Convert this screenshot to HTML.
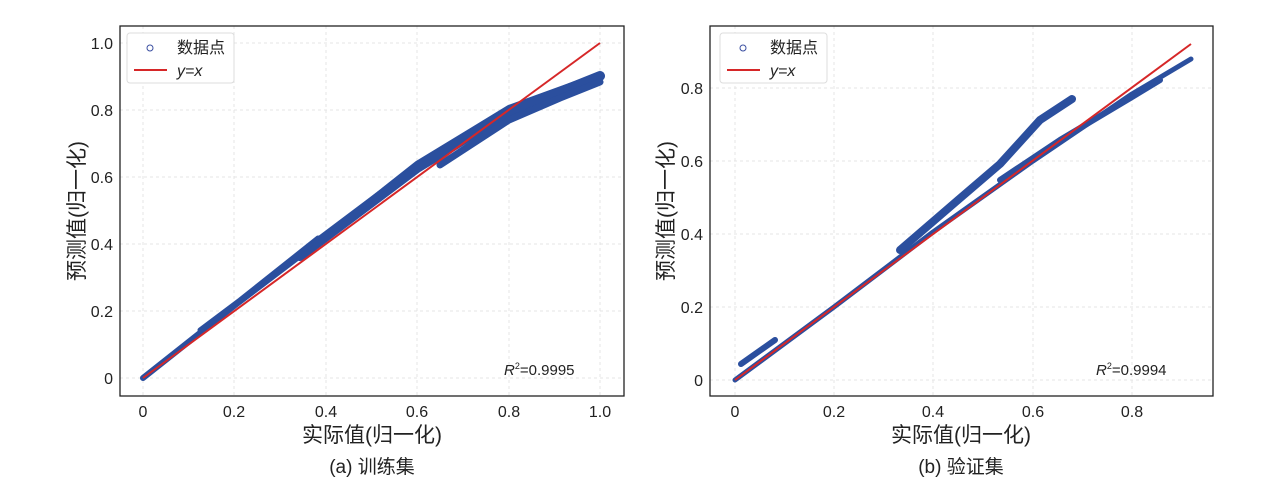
<!DOCTYPE html><html><head><meta charset="utf-8"><style>body{margin:0;background:#fff}svg{display:block}text{font-family:"Liberation Sans","Noto Sans CJK SC",sans-serif;fill:#222}</style></head><body>
<svg width="1268" height="486" viewBox="0 0 1268 486">
<g stroke="#e4e4e4" stroke-dasharray="3,3" stroke-width="1">
<line x1="234" y1="26" x2="234" y2="396"/><line x1="326" y1="26" x2="326" y2="396"/><line x1="417" y1="26" x2="417" y2="396"/><line x1="509" y1="26" x2="509" y2="396"/><line x1="143" y1="26" x2="143" y2="396"/><line x1="600" y1="26" x2="600" y2="396"/>
<line x1="120" y1="378" x2="624" y2="378"/><line x1="120" y1="311" x2="624" y2="311"/><line x1="120" y1="244" x2="624" y2="244"/><line x1="120" y1="177" x2="624" y2="177"/><line x1="120" y1="110" x2="624" y2="110"/><line x1="120" y1="43" x2="624" y2="43"/>
<line x1="735" y1="26" x2="735" y2="396"/><line x1="834" y1="26" x2="834" y2="396"/><line x1="933" y1="26" x2="933" y2="396"/><line x1="1033" y1="26" x2="1033" y2="396"/><line x1="1132" y1="26" x2="1132" y2="396"/>
<line x1="710" y1="380" x2="1213" y2="380"/><line x1="710" y1="307" x2="1213" y2="307"/><line x1="710" y1="234" x2="1213" y2="234"/><line x1="710" y1="161" x2="1213" y2="161"/><line x1="710" y1="88" x2="1213" y2="88"/>
</g>
<g fill="none" stroke="#2b4f9e" stroke-linecap="round" stroke-linejoin="round">
<polyline stroke-width="6" points="143,378 234,306 326,236 417,164 509,108 600,75"/>
<polyline stroke-width="10" points="300,256 417,168 509,112 560,92 600,76"/>
<polyline stroke-width="7" points="440,165 509,120 560,98 600,82"/>
<polyline stroke-width="5" points="200,330 240,300 318,238"/>
<polyline stroke-width="5" points="735,380 834,307 933,232 1033,161 1132,94 1191,59"/>
<polyline stroke-width="8" points="900,250 958,200 1000,164 1040,120 1072,99"/>
<polyline stroke-width="6" points="741,364 775,340"/>
<polyline stroke-width="6" points="1000,180 1060,140 1132,97 1160,80"/>
</g>
<line x1="143" y1="378" x2="600" y2="43" stroke="#d62728" stroke-width="2"/>
<line x1="735" y1="380" x2="1191" y2="44" stroke="#d62728" stroke-width="2"/>
<g fill="none" stroke="#222" stroke-width="1.3">
<rect x="120" y="26" width="504" height="370"/><rect x="710" y="26" width="503" height="370"/>
</g>
<g font-size="16" text-anchor="end">
<text x="113" y="384">0</text><text x="113" y="317">0.2</text><text x="113" y="250">0.4</text><text x="113" y="183">0.6</text><text x="113" y="116">0.8</text><text x="113" y="49">1.0</text>
<text x="703" y="386">0</text><text x="703" y="313">0.2</text><text x="703" y="240">0.4</text><text x="703" y="167">0.6</text><text x="703" y="94">0.8</text>
</g>
<g font-size="16" text-anchor="middle">
<text x="143" y="417">0</text><text x="234" y="417">0.2</text><text x="326" y="417">0.4</text><text x="417" y="417">0.6</text><text x="509" y="417">0.8</text><text x="600" y="417">1.0</text>
<text x="735" y="417">0</text><text x="834" y="417">0.2</text><text x="933" y="417">0.4</text><text x="1033" y="417">0.6</text><text x="1132" y="417">0.8</text>
</g>
<g font-size="21" text-anchor="middle">
<text x="372" y="442">实际值(归一化)</text><text x="961" y="442">实际值(归一化)</text>
<text transform="translate(84,211) rotate(-90)">预测值(归一化)</text>
<text transform="translate(673,211) rotate(-90)">预测值(归一化)</text>
</g>
<g font-size="19" text-anchor="middle"><text x="372" y="473">(a) 训练集</text><text x="961" y="473">(b) 验证集</text></g>
<g font-size="15"><text x="504" y="375"><tspan font-style="italic">R</tspan><tspan font-size="9" dy="-6">2</tspan><tspan dy="6">=0.9995</tspan></text>
<text x="1096" y="375"><tspan font-style="italic">R</tspan><tspan font-size="9" dy="-6">2</tspan><tspan dy="6">=0.9994</tspan></text></g>
<g>
<rect x="127" y="33" width="107" height="50" rx="3" fill="#fff" stroke="#ddd"/>
<circle cx="150" cy="48" r="3" fill="none" stroke="#3a4ea0"/>
<line x1="134" y1="70" x2="167" y2="70" stroke="#d62728" stroke-width="2"/>
<text x="177" y="53" font-size="16">数据点</text><text x="177" y="76" font-size="16" font-style="italic">y=x</text>
<rect x="720" y="33" width="107" height="50" rx="3" fill="#fff" stroke="#ddd"/>
<circle cx="743" cy="48" r="3" fill="none" stroke="#3a4ea0"/>
<line x1="727" y1="70" x2="760" y2="70" stroke="#d62728" stroke-width="2"/>
<text x="770" y="53" font-size="16">数据点</text><text x="770" y="76" font-size="16" font-style="italic">y=x</text>
</g>
</svg></body></html>
